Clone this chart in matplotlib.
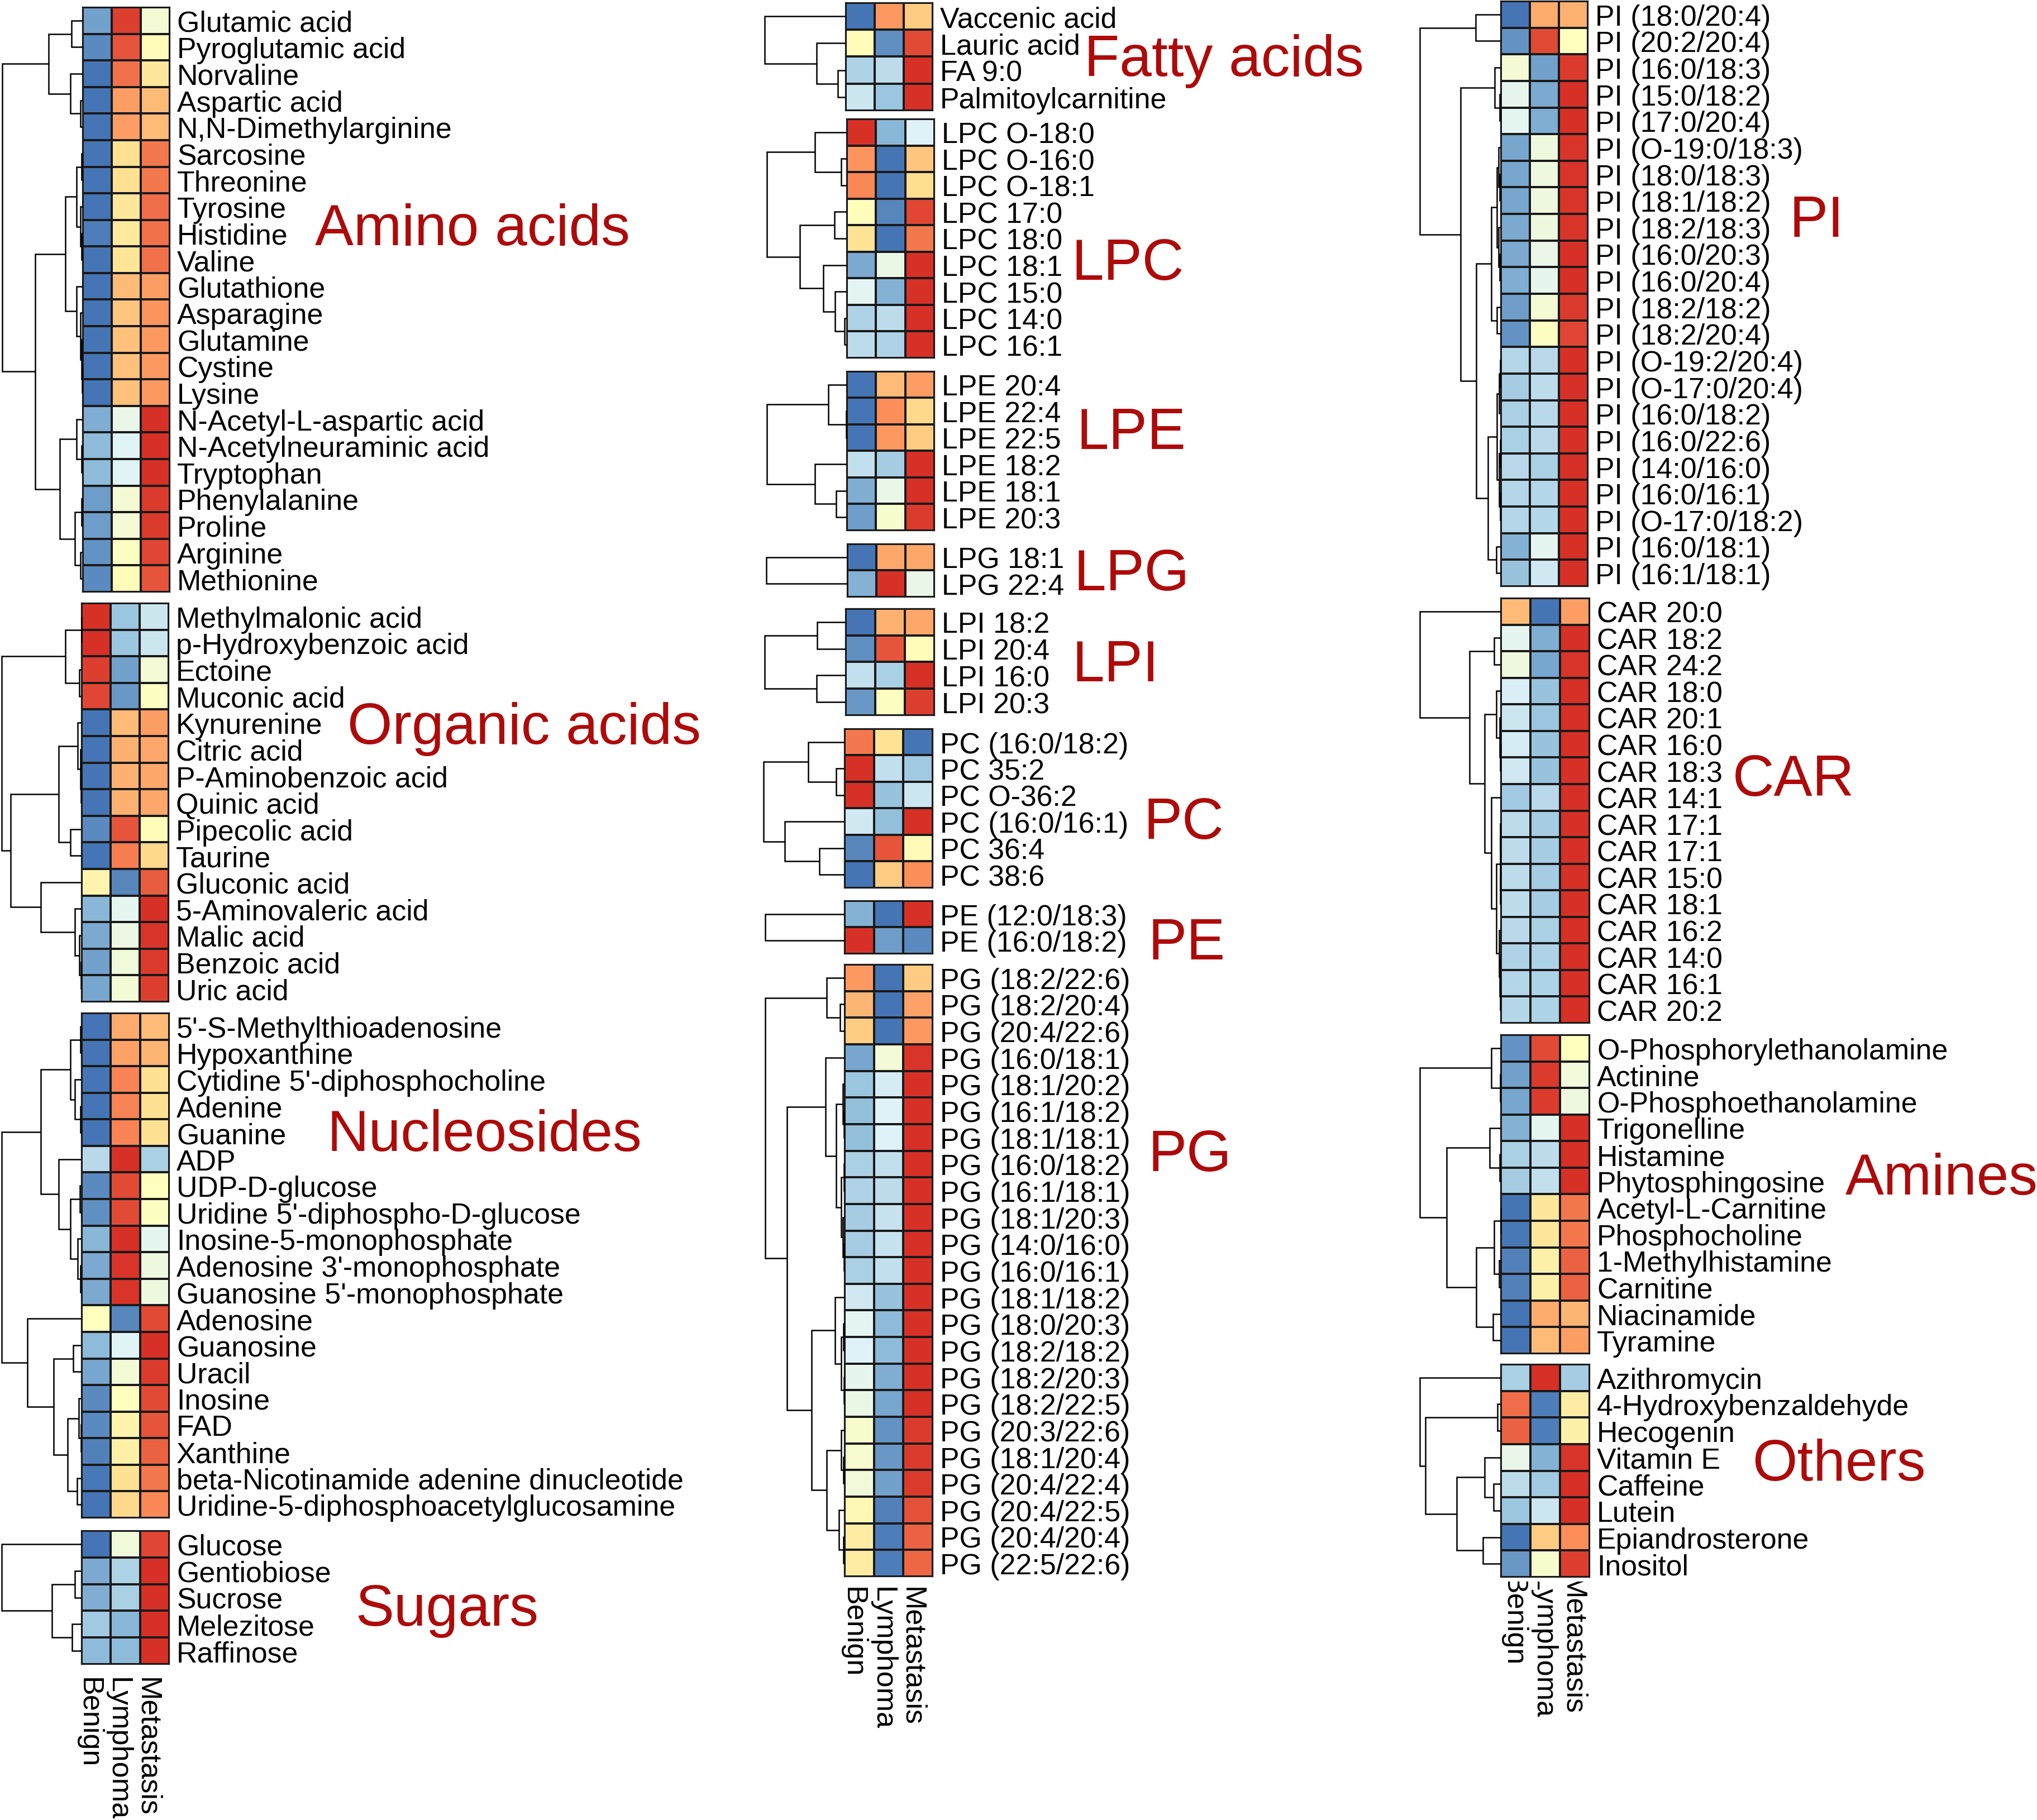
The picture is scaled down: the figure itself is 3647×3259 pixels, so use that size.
import numpy as np
import matplotlib
matplotlib.use('Agg')
import matplotlib.pyplot as plt
from matplotlib.colors import LinearSegmentedColormap
from matplotlib.transforms import Bbox

W, H = 3647, 3259
plt.rcParams['font.family'] = ['Liberation Sans', 'DejaVu Sans']

groups = ['Benign', 'Lymphoma', 'Metastasis']

# values are positions on the colour scale (0 = blue, 1 = red)
# trees are nested [height, left, right], 0 is a leaf, height in pixels left of the heatmap
amino_names = ['Glutamic acid', 'Pyroglutamic acid', 'Norvaline', 'Aspartic acid', 'N,N-Dimethylarginine',
               'Sarcosine', 'Threonine', 'Tyrosine', 'Histidine', 'Valine', 'Glutathione', 'Asparagine',
               'Glutamine', 'Cystine', 'Lysine', 'N-Acetyl-L-aspartic acid', 'N-Acetylneuraminic acid',
               'Tryptophan', 'Phenylalanine', 'Proline', 'Arginine', 'Methionine']
amino_vals = [[.10, .97, .44], [.05, .93, .52], [0, .88, .63], [0, .80, .74], [0, .80, .74], [0, .66, .87],
              [0, .66, .87], [0, .63, .89], [.02, .62, .88], [0, .64, .88], [0, .74, .80], [0, .72, .82],
              [0, .73, .81], [0, .73, .81], [0, .73, .81], [.13, .38, 1], [.16, .34, 1], [.16, .34, 1],
              [.09, .44, .98], [.09, .44, .98], [.07, .49, .96], [.05, .52, .93]]
amino_tree = [144, [61, [20, 0, 0], [22, 0, [4.5, 0, 0]]],
              [85, [31, [11, [2, 0, 0], [4.5, 0, [2, 0, 0]]], [11, 0, [4.5, 0, [2, 0, [1, 0, 0]]]]],
               [41, [11, 0, [2, 0, 0]], [14, [2, 0, 0], [4.5, 0, 0]]]]]

organic_names = ['Methylmalonic acid', 'p-Hydroxybenzoic acid', 'Ectoine', 'Muconic acid', 'Kynurenine',
                 'Citric acid', 'P-Aminobenzoic acid', 'Quinic acid', 'Pipecolic acid', 'Taurine',
                 'Gluconic acid', '5-Aminovaleric acid', 'Malic acid', 'Benzoic acid', 'Uric acid']
organic_vals = [[1, .19, .29], [1, .19, .29], [.97, .10, .44], [.96, .08, .49], [0, .74, .80], [0, .76, .78],
                [0, .76, .78], [0, .76, .78], [.05, .93, .52], [0, .86, .68], [.56, .04, .92], [.15, .36, 1],
                [.12, .40, .99], [.10, .42, .98], [.11, .43, .97]]
organic_tree = [143, [28.6, [.5, 0, 0], [4.5, 0, 0]],
                [127, [41, [7, 0, [2.5, 0, [1, 0, 0]]], [20, 0, 0]],
                 [73, 0, [11.6, 0, [4.5, 0, [1.5, 0, 0]]]]]]

nucleo_names = ["5'-S-Methylthioadenosine", 'Hypoxanthine', "Cytidine 5'-diphosphocholine", 'Adenine', 'Guanine',
                'ADP', 'UDP-D-glucose', "Uridine 5'-diphospho-D-glucose", 'Inosine-5-monophosphate',
                "Adenosine 3'-monophosphate", "Guanosine 5'-monophosphate", 'Adenosine', 'Guanosine', 'Uracil',
                'Inosine', 'FAD', 'Xanthine', 'beta-Nicotinamide adenine dinucleotide',
                'Uridine-5-diphosphoacetylglucosamine']
nucleo_vals = [[0, .77, .74], [0, .79, .75], [0, .85, .66], [0, .85, .66], [0, .85, .66], [.25, 1, .22],
               [.05, .95, .50], [.06, .95, .49], [.15, 1, .36], [.12, .99, .41], [.12, .99, .41], [.50, .04, .95],
               [.16, .34, 1], [.11, .43, .98], [.05, .50, .95], [.05, .56, .93], [.03, .58, .91], [.01, .66, .87],
               [0, .68, .84]]
nucleo_tree = [143, [73, [20, [2, 0, 0], [11.6, 0, [2, 0, 0]]], [41, 0, [20, [3, 0, 0], [7, 0, [2.5, 0, 0]]]]],
               [97, 0, [50, [14.7, 0, 0], [25, [5.5, 0, [1, 0, 0]], [8, 0, 0]]]]]

sugar_names = ['Glucose', 'Gentiobiose', 'Sucrose', 'Melezitose', 'Raffinose']
sugar_vals = [[0, .42, .96], [.12, .23, 1], [.13, .22, 1], [.20, .15, 1], [.16, .16, 1]]
sugar_tree = [143, 0, [53, [11.6, 0, 0], [17, 0, 0]]]

fatty_names = ['Vaccenic acid', 'Lauric acid', 'FA 9:0', 'Palmitoylcarnitine']
fatty_vals = [[0, .81, .71], [.52, .06, .95], [.23, .26, 1], [.29, .19, 1]]
fatty_tree = [145, 0, [52, 0, [14, 0, 0]]]

lpc_names = ['LPC O-18:0', 'LPC O-16:0', 'LPC O-18:1', 'LPC 17:0', 'LPC 18:0', 'LPC 18:1', 'LPC 15:0', 'LPC 14:0',
             'LPC 16:1']
lpc_vals = [[1, .15, .33], [.82, 0, .72], [.84, 0, .67], [.51, .04, .96], [.65, 0, .87], [.12, .39, 1],
            [.35, .14, 1], [.23, .26, 1], [.26, .23, 1]]
lpc_tree = [143, [57, 0, [10, 0, 0]], [84, [22, 0, 0], [42, 0, [21, 0, [4, 0, 0]]]]]

lpe_names = ['LPE 20:4', 'LPE 22:4', 'LPE 22:5', 'LPE 18:2', 'LPE 18:1', 'LPE 20:3']
lpe_vals = [[0, .74, .80], [0, .83, .68], [0, .81, .71], [.27, .21, 1], [.13, .38, 1], [.09, .46, .98]]
lpe_tree = [143, [33, 0, [1, 0, 0]], [57, 0, [19, 0, 0]]]

lpg_names = ['LPG 18:1', 'LPG 22:4']
lpg_vals = [[0, .78, .78], [.14, 1, .38]]
lpg_tree = [145, 0, 0]

lpi_names = ['LPI 18:2', 'LPI 20:4', 'LPI 16:0', 'LPI 20:3']
lpi_vals = [[0, .76, .78], [.06, .93, .52], [.27, .22, 1], [.08, .49, .97]]
lpi_tree = [145, [51, 0, 0], [52, 0, 0]]

pc_names = ['PC (16:0/18:2)', 'PC 35:2', 'PC O-36:2', 'PC (16:0/16:1)', 'PC 36:4', 'PC 38:6']
pc_vals = [[.87, .65, 0], [1, .27, .20], [1, .18, .29], [.30, .17, 1], [.04, .93, .53], [0, .71, .83]]
pc_tree = [145, [65, 0, [15, 0, 0]], [107, 0, [45, 0, 0]]]

pe_names = ['PE (12:0/18:3)', 'PE (16:0/18:2)']
pe_vals = [[.14, 0, 1], [1, .09, .05]]
pe_tree = [142, 0, 0]

pg_names = ['PG (18:2/22:6)', 'PG (18:2/20:4)', 'PG (20:4/22:6)', 'PG (16:0/18:1)', 'PG (18:1/20:2)',
            'PG (16:1/18:2)', 'PG (18:1/18:1)', 'PG (16:0/18:2)', 'PG (16:1/18:1)', 'PG (18:1/20:3)',
            'PG (14:0/16:0)', 'PG (16:0/16:1)', 'PG (18:1/18:2)', 'PG (18:0/20:3)', 'PG (18:2/18:2)',
            'PG (18:2/20:3)', 'PG (18:2/22:5)', 'PG (20:3/22:6)', 'PG (18:1/20:4)', 'PG (20:4/22:4)',
            'PG (20:4/22:5)', 'PG (20:4/20:4)', 'PG (22:5/22:6)']
pg_vals = [[.81, 0, .71], [.75, 0, .79], [.71, 0, .81], [.11, .43, .99], [.19, .31, 1], [.17, .33, 1], [.17, .33, 1],
           [.22, .27, 1], [.23, .26, 1], [.21, .28, 1], [.21, .28, 1], [.22, .27, 1], [.30, .18, 1], [.35, .16, 1],
           [.33, .16, 1], [.37, .13, 1], [.39, .11, 1], [.46, .07, .98], [.45, .08, .98], [.42, .10, .98],
           [.54, .03, .94], [.60, .02, .91], [.60, .02, .90]]
pg_tree = [142, [32, 0, [8, 0, 0]],
           [103, [34, 0, [15, [3, 0, [1.5, 0, 0]], [6, [1.5, 0, 0], [3, 0, [1.5, 0, 0]]]]],
            [59, [17, 0, [6, [2, 0, 0], [1, 0, 0]]], [32, [6, 0, [2, 0, 0]], [10, 0, [2, 0, 0]]]]]]

pi_names = ['PI (18:0/20:4)', 'PI (20:2/20:4)', 'PI (16:0/18:3)', 'PI (15:0/18:2)', 'PI (17:0/20:4)',
            'PI (O-19:0/18:3)', 'PI (18:0/18:3)', 'PI (18:1/18:2)', 'PI (18:2/18:3)', 'PI (16:0/20:3)',
            'PI (16:0/20:4)', 'PI (18:2/18:2)', 'PI (18:2/20:4)', 'PI (O-19:2/20:4)', 'PI (O-17:0/20:4)',
            'PI (16:0/18:2)', 'PI (16:0/22:6)', 'PI (14:0/16:0)', 'PI (16:0/16:1)', 'PI (O-17:0/18:2)',
            'PI (16:0/18:1)', 'PI (16:1/18:1)']
pi_vals = [[0, .77, .76], [.07, .95, .50], [.44, .10, .98], [.37, .12, 1], [.36, .13, 1], [.11, .41, .99],
           [.11, .41, .99], [.11, .41, .99], [.12, .41, .99], [.12, .38, 1], [.13, .37, 1], [.09, .44, .98],
           [.07, .49, .96], [.24, .25, 1], [.21, .26, 1], [.22, .25, 1], [.22, .25, 1], [.25, .22, 1], [.24, .24, 1],
           [.24, .24, 1], [.14, .36, 1], [.18, .30, 1]]
pi_tree = [145, [45, 0, 0],
           [72, [11, 0, [2.5, 0, 0]],
            [44, [17, [7, [4, 0, [2, 0, 0]], [4, 0, [2, 0, 0]]], [7, 0, 0]],
             [23, [7, [3, [1, 0, 0], 0], [3, [1.5, 0, 0], [1.5, 0, 0]]], [8, 0, 0]]]]]

car_names = ['CAR 20:0', 'CAR 18:2', 'CAR 24:2', 'CAR 18:0', 'CAR 20:1', 'CAR 16:0', 'CAR 18:3', 'CAR 14:1',
             'CAR 17:1', 'CAR 17:1', 'CAR 15:0', 'CAR 18:1', 'CAR 16:2', 'CAR 14:0', 'CAR 16:1', 'CAR 20:2']
car_vals = [[.74, 0, .80], [.36, .13, 1], [.41, .11, .99], [.32, .18, 1], [.29, .19, 1], [.31, .18, 1], [.30, .18, 1],
            [.20, .25, 1], [.26, .21, 1], [.26, .21, 1], [.26, .21, 1], [.26, .21, 1], [.25, .22, 1], [.23, .23, 1],
            [.24, .23, 1], [.24, .23, 1]]
car_tree = [145, 0, [56, [12, 0, 0], [29, [8, 0, [2.5, 0, [1, 0, 0]]],
                                      [17, 0, [8, [1.5, [1, 0, 0], [1, 0, 0]], [3, 0, [2, 0, [1, 0, 0]]]]]]]]

amine_names = ['O-Phosphorylethanolamine', 'Actinine', 'O-Phosphoethanolamine', 'Trigonelline', 'Histamine',
               'Phytosphingosine', 'Acetyl-L-Carnitine', 'Phosphocholine', '1-Methylhistamine', 'Carnitine',
               'Niacinamide', 'Tyramine']
amine_vals = [[.07, .95, .50], [.10, .98, .42], [.11, .98, .41], [.14, .36, 1], [.22, .26, 1], [.21, .27, 1],
              [0, .63, .87], [.01, .63, .87], [.03, .58, .91], [.03, .58, .91], [0, .77, .75], [0, .74, .80]]
amine_tree = [145, [17, 0, [1, 0, 0]], [97, [20, 0, [2, 0, 0]], [44, [12, [.5, 0, 0], [3, 0, 0]], [14, 0, 0]]]]

other_names = ['Azithromycin', '4-Hydroxybenzaldehyde', 'Hecogenin', 'Vitamin E', 'Caffeine', 'Lutein',
               'Epiandrosterone', 'Inositol']
other_vals = [[.22, 1, .21], [.89, .02, .60], [.91, .02, .58], [.38, .14, .99], [.26, .20, 1], [.19, .29, 1],
              [0, .71, .83], [.08, .46, .97]]
other_tree = [145, 0, [135, [6, 0, 0], [79, [29, 0, [13, 0, 0]], [32, 0, 0]]]]

# names, values, tree, then the box of the heatmap in pixels: left, right, top, bottom
panels = [
    (amino_names, amino_vals, amino_tree, 148, 304, 13, 1060),
    (organic_names, organic_vals, organic_tree, 146, 302, 1080, 1794),
    (nucleo_names, nucleo_vals, nucleo_tree, 146, 303, 1814, 2718),
    (sugar_names, sugar_vals, sugar_tree, 146, 303, 2741, 2980),
    (fatty_names, fatty_vals, fatty_tree, 1514, 1670, 5, 198),
    (lpc_names, lpc_vals, lpc_tree, 1516, 1673, 213, 641),
    (lpe_names, lpe_vals, lpe_tree, 1516, 1673, 665, 950),
    (lpg_names, lpg_vals, lpg_tree, 1517, 1673, 974, 1069),
    (lpi_names, lpi_vals, lpi_tree, 1514, 1673, 1090, 1281),
    (pc_names, pc_vals, pc_tree, 1512, 1670, 1305, 1590),
    (pe_names, pe_vals, pe_tree, 1512, 1670, 1613, 1708),
    (pg_names, pg_vals, pg_tree, 1512, 1670, 1727, 2823),
    (pi_names, pi_vals, pi_tree, 2687, 2843, 2, 1050),
    (car_names, car_vals, car_tree, 2687, 2846, 1071, 1832),
    (amine_names, amine_vals, amine_tree, 2687, 2846, 1853, 2424),
    (other_names, other_vals, other_tree, 2687, 2846, 2443, 2824),
]

# text, left edge and middle in pixels
class_labels = [('Amino acids', 564, 412), ('Organic acids', 622, 1305), ('Nucleosides', 585, 2035),
                ('Sugars', 636, 2884), ('Fatty acids', 1941, 109), ('LPC', 1918, 474), ('LPE', 1927, 777),
                ('LPG', 1923, 1030), ('LPI', 1920, 1193), ('PC', 2048, 1475), ('PE', 2055, 1691),
                ('PG', 2055, 2070), ('PI', 3204, 398), ('CAR', 3102, 1398), ('Amines', 3304, 2112),
                ('Others', 3137, 2624)]

# panel index, pixels from heatmap to the text, sideways shift, clip line
column_labels = [(3, 24, -14, None), (11, 19, -12, None), (15, -2, -5, 2832)]

cmap = LinearSegmentedColormap.from_list(
    'heat', ['#4575B4', '#91BFDB', '#E0F3F8', '#FFFFBF', '#FEE090', '#FC8D59', '#D73027'])


def px_axes(fig, left, right, top, bottom):
    ax = fig.add_axes([left / W, 1 - bottom / H, (right - left) / W, (bottom - top) / H])
    return ax


def draw_tree(ax, node, leaf):
    # walks the tree in order and returns height and y of the node
    if node == 0:
        leaf[0] += 1
        return 0, leaf[0] - 0.5
    h, a, b = node
    ha, ya = draw_tree(ax, a, leaf)
    hb, yb = draw_tree(ax, b, leaf)
    ax.plot([ha, h, h, hb], [ya, ya, yb, yb], color='black', lw=1.8, clip_on=False,
            solid_joinstyle='miter', solid_capstyle='butt')
    return h, (ya + yb) / 2


fig = plt.figure(figsize=(W / 100, H / 100), dpi=100)
heat_axes = []

for names, vals, tree, left, right, top, bottom in panels:
    ax = px_axes(fig, left, right, top, bottom)
    n = len(names)
    ax.pcolormesh(np.arange(4), np.arange(n + 1), np.array(vals), cmap=cmap, vmin=0, vmax=1,
                  edgecolors='#1a1a1a', linewidth=1.6)
    ax.set_ylim(n, 0)
    ax.set_xticks([])
    ax.yaxis.tick_right()
    # labels sit a touch under the row middle in the original
    ax.set_yticks(np.arange(n) + 0.52, names, fontsize=37.4)
    ax.tick_params(axis='y', length=0, pad=9.5)
    for s in ax.spines.values():
        s.set_linewidth(1.6)
        s.set_color('#1a1a1a')
    heat_axes.append(ax)

    # dendrogram sits left of the heatmap, x runs in pixels away from it
    tr = px_axes(fig, 0, left, top, bottom)
    tr.set_xlim(left, 0)
    tr.set_ylim(n, 0)
    tr.axis('off')
    draw_tree(tr, tree, [0])

for idx, pad, dx, clip in column_labels:
    ax = heat_axes[idx]
    n = len(panels[idx][0])
    for i, g in enumerate(groups):
        t = ax.annotate(g, xy=(i + 0.5, n), xycoords='data', xytext=(dx, -pad), textcoords='offset pixels',
                        rotation=270, ha='center', va='top', fontsize=37.5, annotation_clip=False)
        if clip is not None:
            # this block's labels are cut at the top in the original
            t.set_clip_on(True)
            t.set_clip_box(Bbox([[0, 0], [W, H - clip]]))

for text, x, y in class_labels:
    fig.text(x / W, 1 - y / H, text, color='#AE0A0A', fontsize=74.5, ha='left', va='center')

fig.savefig('out.png', dpi=100, facecolor='white')
plt.close(fig)
